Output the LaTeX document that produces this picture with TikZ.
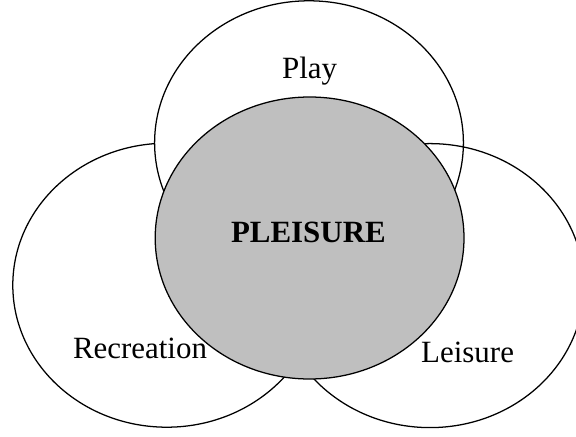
\documentclass[tikz,border=0pt]{standalone}
\usepackage{fontspec}
\setmainfont{Liberation Serif}

\tikzset{
  ring/.style = {black, line width = 0.9pt},
  lbl/.style  = {anchor = base, inner sep = 0pt, font = \fontsize{22}{26}\selectfont}
}

\begin{document}
\begin{tikzpicture}

\useasboundingbox (0,0) rectangle (14.4,10.9);

\draw[ring] (4.17,3.77) ellipse (3.85cm and 3.55cm); 
\draw[ring, fill = white] (7.725,7.33) ellipse (3.86cm and 3.55cm); 
\draw[ring] (10.75,3.76) ellipse (3.85cm and 3.55cm); 
\draw[ring, fill = gray!50] (7.74,4.95) ellipse (3.86cm and 3.525cm); 

\node[lbl] (play) at (7.74,8.95) {Play}; 
\node[lbl, font = \fontsize{22}{26}\selectfont\bfseries] (pleisure) at (7.71,4.83) {PLEISURE}; 
\node[lbl] (recreation) at (3.5,1.95) {Recreation}; 
\node[lbl] (leisure) at (11.69,1.83) {Leisure}; 

\end{tikzpicture}
\end{document}
